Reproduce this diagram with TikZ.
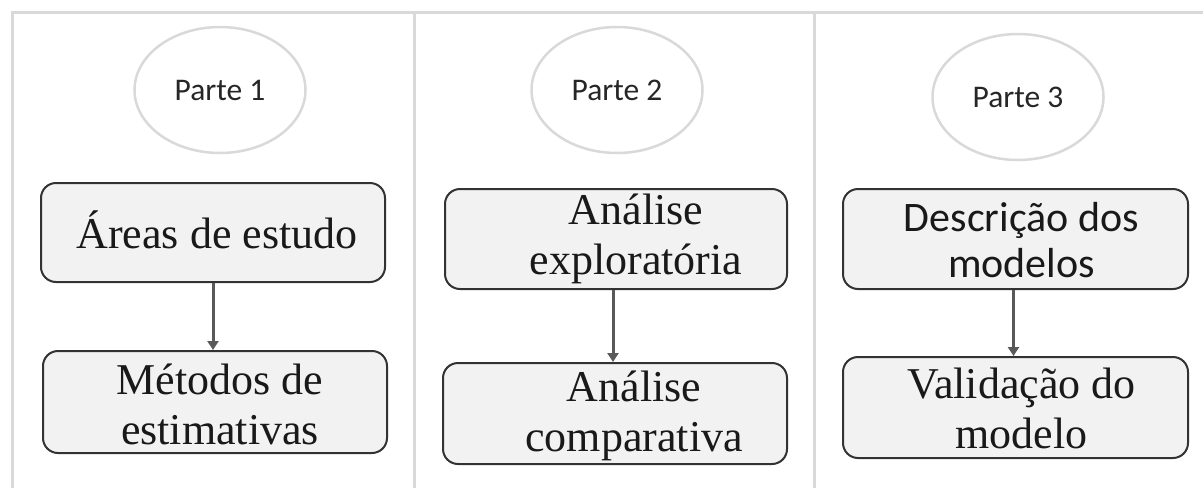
\documentclass[tikz,border=0pt]{standalone}
\usepackage{fontspec}
\setmainfont{Liberation Serif}
\newfontfamily\carlito{Carlito}
\usetikzlibrary{shapes.geometric,arrows.meta}
\definecolor{framegray}{HTML}{D9D9D9}
\definecolor{boxfill}{HTML}{F2F2F2}
\definecolor{boxline}{HTML}{333333}
\definecolor{arrowgray}{HTML}{595959}
\tikzset{
  frameline/.style={draw=framegray, line width=3pt},
  parte/.style={ellipse, draw=framegray, line width=2.5pt, fill=white,
    minimum width=171pt, minimum height=126pt, inner sep=0pt,
    font=\carlito\fontsize{31.5}{36}\selectfont, text=black!85},
  stepbox/.style={rectangle, rounded corners=15pt, draw=boxline, fill=boxfill,
    line width=2pt, inner sep=0pt},
  serif/.style={align=center, inner sep=0pt, text=black!90,
    font=\fontsize{44}{50}\selectfont},
  sans/.style={align=center, inner sep=0pt, text=black!90,
    font=\carlito\fontsize{42}{46}\selectfont},
  flow/.style={draw=arrowgray, line width=3pt,
    -{Triangle[width=11pt,length=9pt]}}
}
\begin{document}
\begin{tikzpicture}[x=1pt,y=-1pt]
\useasboundingbox (0,0) rectangle (1203,488);
% frame
\draw[frameline] (12,488) -- (12,12) -- (1203,12);
\draw[frameline] (414,12) -- (414,488);
\draw[frameline] (814,12) -- (814,488);
% ellipses
\node[parte] (p1) at (220,90) {Parte 1};
\node[parte] (p2) at (617,90) {Parte 2};
\node[parte] (p3) at (1018,97) {Parte 3};
% boxes
\node[stepbox, minimum width=344pt, minimum height=99pt,
  label={[serif,xshift=4pt,yshift=3pt]center:Áreas de estudo}] (b1) at (213,232.5) {};
\node[stepbox, minimum width=344pt, minimum height=102pt,
  label={[serif,xshift=5pt,yshift=-2pt]center:Métodos de\\estimativas}] (b2) at (215,402) {};
\node[stepbox, minimum width=342pt, minimum height=100pt,
  label={[serif,xshift=20pt,yshift=0pt]center:Análise\\exploratória}] (b3) at (616,239) {};
\node[stepbox, minimum width=344pt, minimum height=101pt,
  label={[serif,xshift=19pt,yshift=-2pt]center:Análise\\comparativa}] (b4) at (615,413.5) {};
\node[stepbox, minimum width=345pt, minimum height=100pt,
  label={[sans,xshift=6pt,yshift=-1pt]center:Descrição dos\\modelos}] (b5) at (1015.5,239) {};
\node[stepbox, minimum width=345pt, minimum height=101pt,
  label={[serif,xshift=6pt,yshift=-1pt]center:Validação do\\modelo}] (b6) at (1015.5,407.5) {};
% arrows
\draw[flow] (b1.south) -- (b1.south |- b2.north);
\draw[flow] ([xshift=-3pt]b3.south) -- ([xshift=-3pt]b3.south |- b4.north);
\draw[flow] ([xshift=-2pt]b5.south) -- ([xshift=-2pt]b5.south |- b6.north);
\end{tikzpicture}
\end{document}
